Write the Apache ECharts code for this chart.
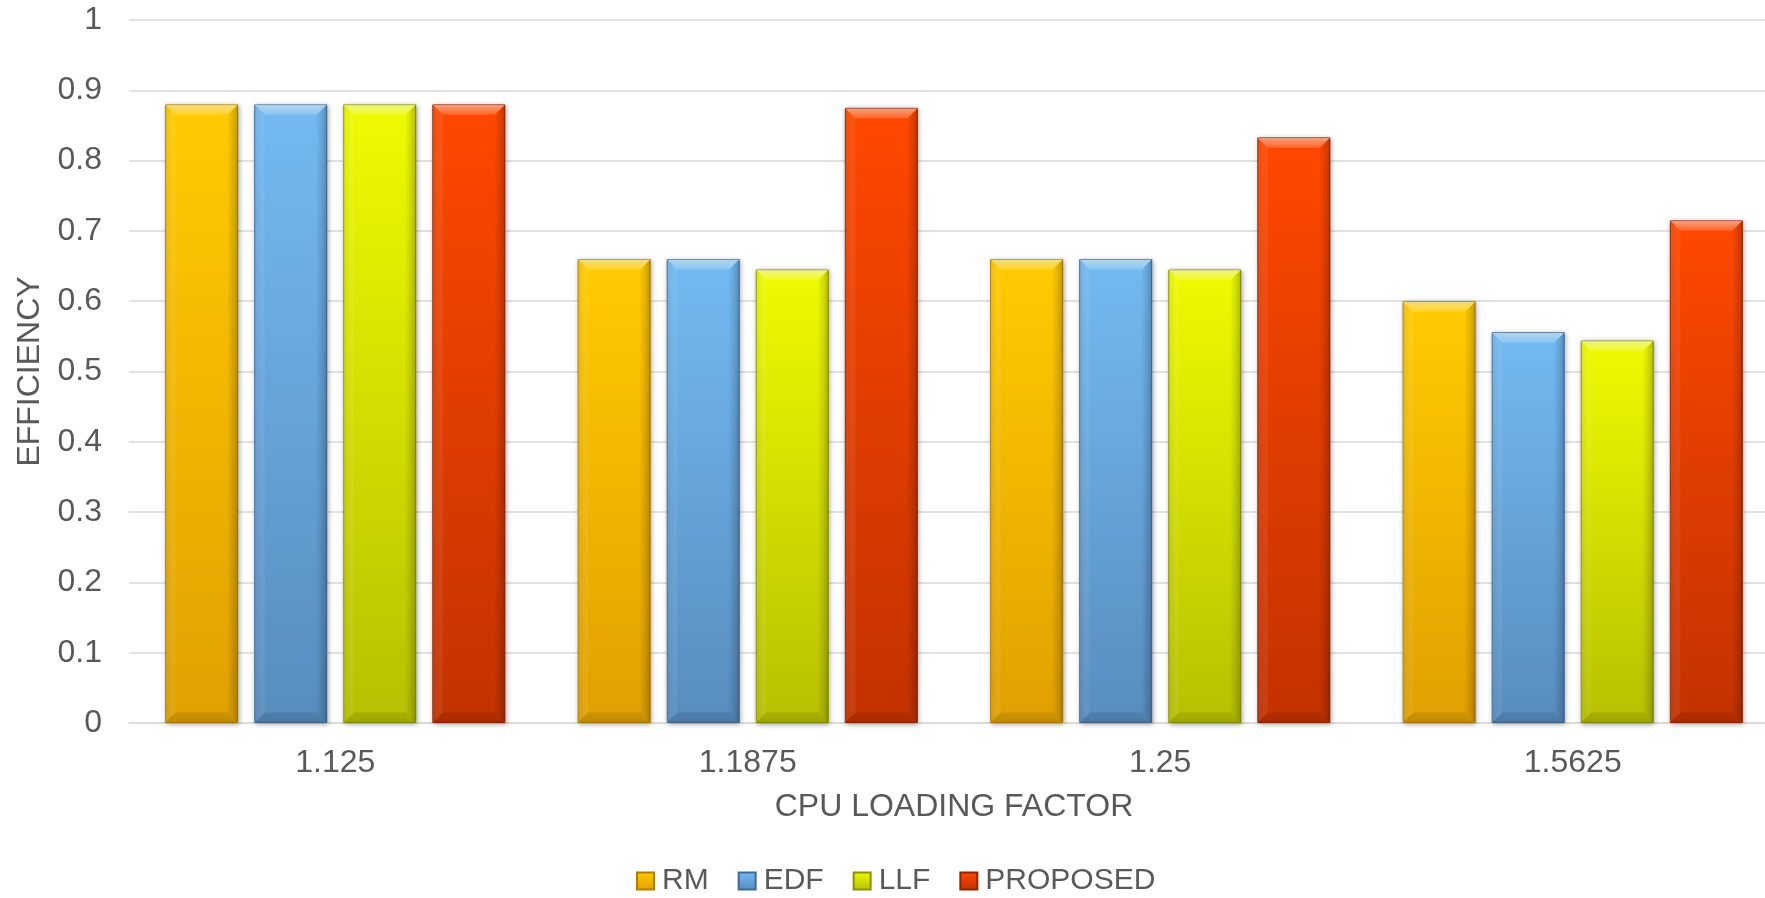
<!DOCTYPE html>
<html>
<head>
<meta charset="utf-8">
<style>
  html, body { margin: 0; padding: 0; background: #ffffff; }
  #chart { width: 1765px; height: 898px; }
</style>
<script src="https://cdn.jsdelivr.net/npm/echarts@6/dist/echarts.min.js"></script>
</head>
<body>
<div id="chart"></div>
<script>
// CPU loading factors on the x axis
const categories = ['1.125', '1.1875', '1.25', '1.5625'];

// Scheduling efficiency per algorithm
const rmValues       = [0.88, 0.66, 0.66, 0.60];
const edfValues      = [0.88, 0.66, 0.66, 0.556];
const llfValues      = [0.88, 0.645, 0.645, 0.544];
const proposedValues = [0.88, 0.875, 0.833, 0.715];

const seriesNames = ['RM', 'EDF', 'LLF', 'PROPOSED'];
const allValues = [rmValues, edfValues, llfValues, proposedValues];

// top / bottom shades of each bar fill
const palettes = [
  { top: '#FFCB00', bottom: '#E0A000', edge: '#B07C00' },
  { top: '#72BAF2', bottom: '#588CBE', edge: '#3F6A94' },
  { top: '#EEFB00', bottom: '#B6C000', edge: '#8A9200' },
  { top: '#FF4800', bottom: '#C23200', edge: '#922400' }
];

const BAR_WIDTH = 73;
const BAR_GAP = 0.22;          // fraction of bar width between bars
const BEVEL = 10;              // bevel depth in px

const textColor = '#595959';
const fontFamily = '"Liberation Sans", Arial, sans-serif';

function barSeries(name, values, pal) {
  return {
    name: name,
    type: 'bar',
    data: values,
    barWidth: BAR_WIDTH,
    barGap: (BAR_GAP * 100) + '%',
    itemStyle: {
      color: new echarts.graphic.LinearGradient(0, 0, 0, 1, [
        { offset: 0, color: pal.top },
        { offset: 1, color: pal.bottom }
      ]),
      borderColor: pal.edge,
      borderWidth: 1,
      shadowColor: 'rgba(0,0,0,0.35)',
      shadowBlur: 5,
      shadowOffsetX: 1,
      shadowOffsetY: 1
    }
  };
}

// Bevel shading drawn over each bar: lit top and left faces, shaded right and bottom faces
function bevelSeries(seriesIndex, values) {
  const pitch = BAR_WIDTH * (1 + BAR_GAP);
  const offset = (seriesIndex - (allValues.length - 1) / 2) * pitch;
  return {
    type: 'custom',
    silent: true,
    z: 3,
    data: values.map((v, i) => [i, v]),
    renderItem: function (params, api) {
      const top = api.coord([api.value(0), api.value(1)]);
      const base = api.coord([api.value(0), 0]);
      const cx = top[0] + offset;
      const x0 = cx - BAR_WIDTH / 2 + 0.5, x1 = cx + BAR_WIDTH / 2 - 0.5;
      const y0 = top[1] + 0.5, y1 = base[1] - 0.5;
      const b = Math.min(BEVEL, (y1 - y0) / 2);
      return {
        type: 'group',
        children: [
          { type: 'polygon', shape: { points: [[x0, y0], [x1, y0], [x1 - b, y0 + b], [x0 + b, y0 + b]] },
            style: { fill: new echarts.graphic.LinearGradient(0, 0, 0, 1, [
              { offset: 0, color: 'rgba(255,255,255,0.5)' },
              { offset: 1, color: 'rgba(255,255,255,0.15)' }]) } },
          { type: 'polygon', shape: { points: [[x0, y0], [x0 + b, y0 + b], [x0 + b, y1 - b], [x0, y1]] },
            style: { fill: 'rgba(255,255,255,0.07)' } },
          { type: 'polygon', shape: { points: [[x1, y0], [x1, y1], [x1 - b, y1 - b], [x1 - b, y0 + b]] },
            style: { fill: new echarts.graphic.LinearGradient(0, 0, 1, 0, [
              { offset: 0, color: 'rgba(0,0,0,0.02)' },
              { offset: 1, color: 'rgba(0,0,0,0.2)' }]) } },
          { type: 'polygon', shape: { points: [[x0, y1], [x1, y1], [x1 - b, y1 - b], [x0 + b, y1 - b]] },
            style: { fill: 'rgba(0,0,0,0.1)' } }
        ]
      };
    }
  };
}

const chart = echarts.init(document.getElementById('chart'), null, { renderer: 'canvas' });

const series = [];
seriesNames.forEach((n, i) => series.push(barSeries(n, allValues[i], palettes[i])));
allValues.forEach((vals, i) => series.push(bevelSeries(i, vals)));

chart.setOption({
  animation: false,
  backgroundColor: '#ffffff',
  textStyle: { fontFamily: fontFamily },
  grid: { left: 129, top: 20, width: 1650, bottom: 175, containLabel: false, outerBoundsMode: 'none' },
  legend: {
    data: seriesNames,
    left: 631,
    top: 861,
    icon: 'rect',
    itemWidth: 17,
    itemHeight: 17,
    itemGap: 29,
    textStyle: { color: textColor, fontSize: 30, fontFamily: fontFamily, padding: [0, 0, 0, 3] }
  },
  xAxis: {
    type: 'category',
    data: categories,
    name: 'CPU LOADING FACTOR',
    nameLocation: 'middle',
    nameGap: 68,
    nameTextStyle: { color: textColor, fontSize: 32, fontFamily: fontFamily },
    axisLine: { lineStyle: { color: '#D9D9D9', width: 1.5 } },
    axisTick: { show: false },
    axisLabel: { color: textColor, fontSize: 32, margin: 24, fontFamily: fontFamily }
  },
  yAxis: {
    type: 'value',
    min: 0,
    max: 1,
    interval: 0.1,
    name: 'EFFICIENCY',
    nameLocation: 'middle',
    nameGap: 78,
    nameRotate: 90,
    nameTextStyle: { color: textColor, fontSize: 32, fontFamily: fontFamily },
    axisLine: { show: false },
    axisTick: { show: false },
    splitLine: { lineStyle: { color: '#D9D9D9', width: 1.5 } },
    axisLabel: { color: textColor, fontSize: 32, margin: 27, fontFamily: fontFamily }
  },
  series: series
});
</script>
</body>
</html>
